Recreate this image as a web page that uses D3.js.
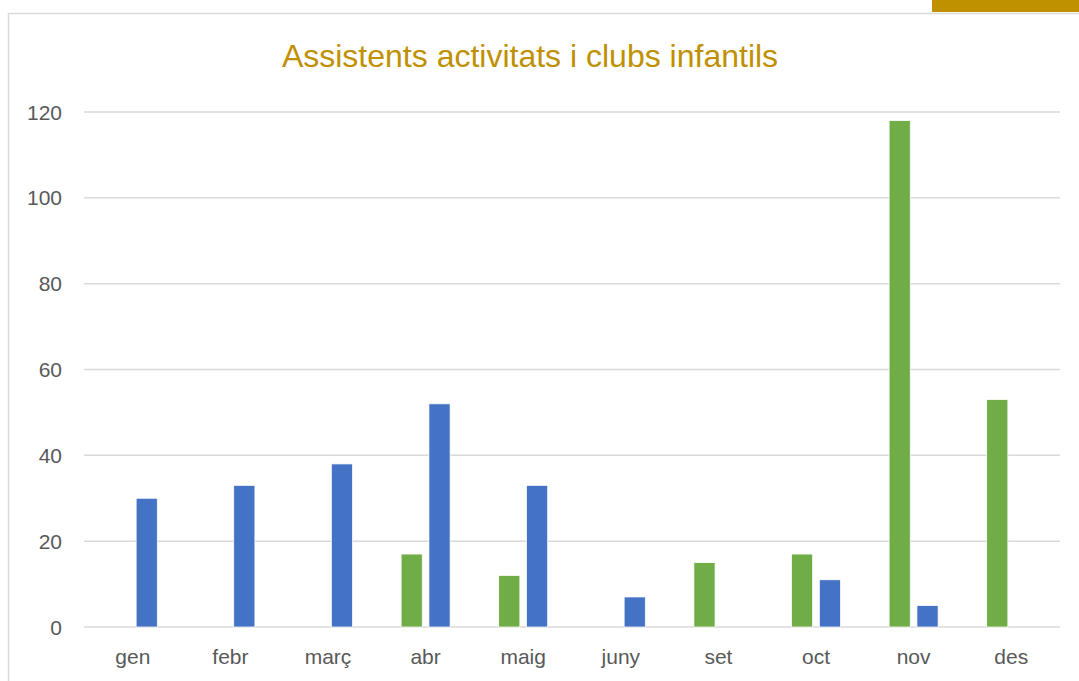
<!DOCTYPE html>
<html>
<head>
<meta charset="utf-8">
<title>Assistents activitats i clubs infantils</title>
<script src="https://cdnjs.cloudflare.com/ajax/libs/d3/7.8.5/d3.min.js"></script>
<style>
body {
  margin: 0;
  background: #fff;
}
text {
  font-family: "Liberation Sans", "DejaVu Sans", sans-serif;
}
.tick text {
  fill: #595959;
  font-size: 21px;
}
</style>
</head>
<body>
<script>
// values
var months = ['gen', 'febr', 'març', 'abr', 'maig', 'juny', 'set', 'oct', 'nov', 'des'];
var activitats = [0, 0, 0, 17, 12, 0, 15, 17, 118, 53];   // green
var clubs = [30, 33, 38, 52, 33, 7, 0, 11, 5, 0];          // blue
var yTicks = [0, 20, 40, 60, 80, 100, 120];

var width = 1079, height = 681;
var margin = {left: 84, right: 19, top: 112, bottom: 54};

var svg = d3.select('body').append('svg')
  .attr('width', width)
  .attr('height', height);

// gold tab + chart frame
svg.append('rect')
  .attr('x', 932).attr('y', 0)
  .attr('width', width - 932).attr('height', 12)
  .attr('fill', '#BF9000');
svg.append('rect')
  .attr('x', 8.5).attr('y', 13.5)
  .attr('width', width + 10).attr('height', height + 10)
  .attr('fill', 'none')
  .attr('stroke', '#D9D9D9')
  .attr('stroke-width', 1.5);

var x0 = d3.scaleBand()
  .domain(months)
  .range([margin.left, width - margin.right]);

var x1 = d3.scaleBand()
  .domain(['activitats', 'clubs'])
  .range([0, 49])
  .paddingInner(0.24);

var y = d3.scaleLinear()
  .domain([0, 120])
  .range([height - margin.bottom, margin.top]);

// gridlines
svg.append('g')
  .selectAll('line')
  .data(yTicks)
  .enter().append('line')
    .attr('x1', margin.left)
    .attr('x2', width - margin.right)
    .attr('y1', function(d) { return y(d); })
    .attr('y2', function(d) { return y(d); })
    .attr('stroke', '#D9D9D9')
    .attr('stroke-width', 1.5);

// y axis labels
var yAxis = svg.append('g')
  .attr('transform', 'translate(' + (margin.left - 22) + ',0)')
  .call(d3.axisLeft(y).tickValues(yTicks).tickSize(0).tickPadding(0));
yAxis.select('.domain').remove();
yAxis.selectAll('text').attr('dy', '0.34em');

// x axis labels
var xAxis = svg.append('g')
  .attr('transform', 'translate(0,' + (height - margin.bottom) + ')')
  .call(d3.axisBottom(x0).tickSize(0).tickPadding(22));
xAxis.select('.domain').remove();

var rows = months.map(function(m, i) {
  return {month: m, values: [
    {key: 'activitats', value: activitats[i], color: '#70AD47'},
    {key: 'clubs', value: clubs[i], color: '#4472C4'}
  ]};
});

var groups = svg.append('g')
  .selectAll('g')
  .data(rows)
  .enter().append('g')
    .attr('transform', function(d) {
      return 'translate(' + (x0(d.month) + x0.bandwidth() / 2 - 24.5) + ',0)';
    });

groups.selectAll('rect')
  .data(function(d) { return d.values.filter(function(v) { return v.value > 0; }); })
  .enter().append('rect')
    .attr('x', function(d) { return x1(d.key); })
    .attr('width', x1.bandwidth())
    .attr('y', function(d) { return y(d.value); })
    .attr('height', function(d) { return y(0) - y(d.value); })
    .attr('fill', function(d) { return d.color; })
    .attr('stroke', '#fff')
    .attr('stroke-width', 0.75);

// title
svg.append('text')
  .attr('x', 530)
  .attr('y', 67)
  .attr('text-anchor', 'middle')
  .attr('fill', '#BF9000')
  .style('font-size', '32px')
  .text('Assistents activitats i clubs infantils');
</script>
</body>
</html>
